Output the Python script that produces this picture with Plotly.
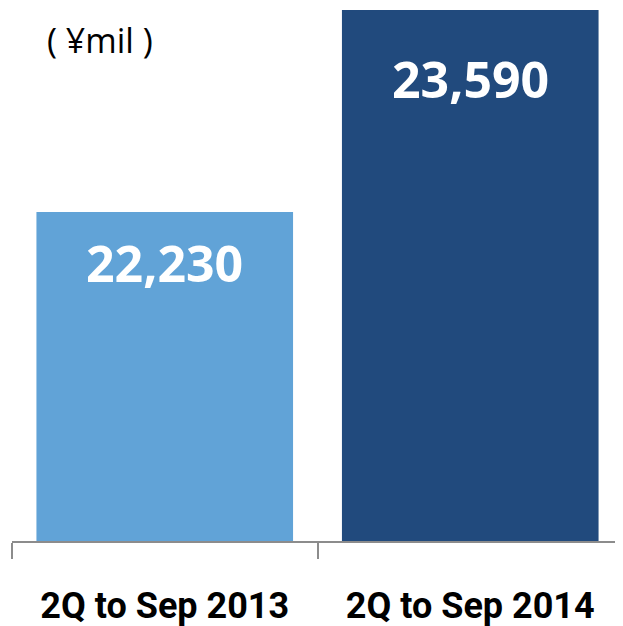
import plotly.graph_objects as go

categories = ["2Q to Sep 2013", "2Q to Sep 2014"]
values = [22230, 23590]
value_labels = ["22,230", "23,590"]
unit_label = "( ¥mil )"

bar_colors = ["#61A3D7", "#214A7D"]
label_shift = [-51, -69]

W, H = 615, 618
ML, MB = 4, 85
plot_w = W - ML
plot_h = H - MB

fig = go.Figure()
fig.add_trace(go.Bar(
    x=categories, y=values,
    marker=dict(color=bar_colors, line=dict(width=0)),
    hoverinfo="skip",
))

for cat, v, lab, sh in zip(categories, values, value_labels, label_shift):
    fig.add_annotation(
        x=cat, y=v, xref="x", yref="y", text=f"<b>{lab}</b>",
        showarrow=False, yshift=sh, yanchor="middle",
        font=dict(family="Open Sans", size=50, color="white"),
    )

fig.add_annotation(
    x=(37 - ML) / plot_w, y=1 - 32 / plot_h, xref="paper", yref="paper", text=unit_label,
    showarrow=False, xanchor="left", yanchor="middle",
    font=dict(family="Open Sans", size=34, color="black"),
)

fig.update_layout(
    width=W, height=H,
    margin=dict(l=ML, r=0, t=0, b=MB, pad=0),
    paper_bgcolor="white", plot_bgcolor="white",
    bargap=0.16,
    showlegend=False,
    xaxis=dict(
        showline=True, linecolor="#8C8C8C", linewidth=1.5,
        ticks="outside", tickson="boundaries", ticklen=16, tickcolor="#8C8C8C", tickwidth=1.5,
        tickfont=dict(family="Roboto", size=36, color="black", weight="bold"),
        ticklabelstandoff=32,
        showgrid=False, zeroline=False,
    ),
    yaxis=dict(
        range=[20015, 23603], visible=False, showgrid=False, zeroline=False,
    ),
)

fig.write_html("out.html")
